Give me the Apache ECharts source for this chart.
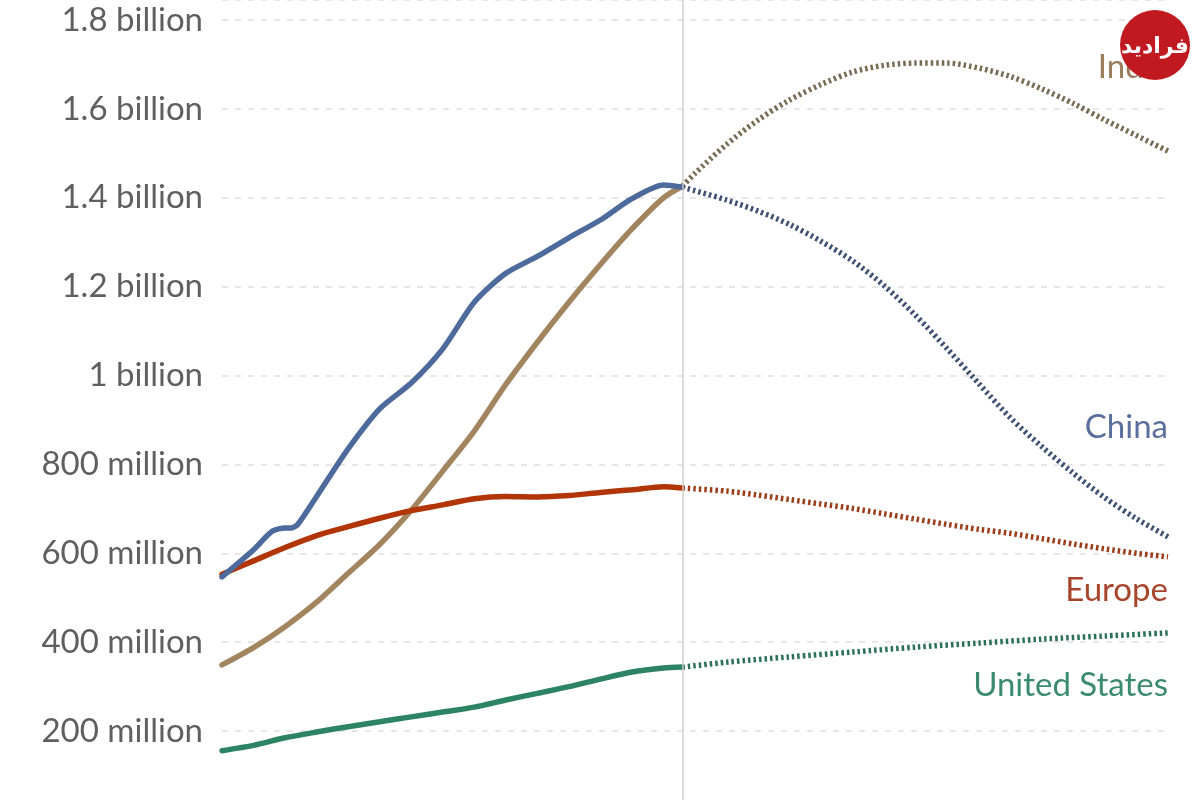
<!DOCTYPE html>
<html>
<head>
<meta charset="utf-8">
<title>Population projections</title>
<script src="https://cdn.jsdelivr.net/npm/echarts@6/dist/echarts.min.js"></script>
<style>
  html, body { margin: 0; padding: 0; background: #fff; }
  #echart { width: 1200px; height: 800px; }
</style>
</head>
<body>
<div id="echart"></div>
<script>
// values in millions of people
var chinaHistYears = [1950, 1955, 1958, 1960, 1961, 1962, 1965, 1970, 1975, 1980, 1985, 1990, 1995, 2000, 2005, 2010, 2015, 2020, 2023];
var chinaHist = [547, 608, 650, 657, 657, 665, 728, 835, 925, 983, 1060, 1165, 1230, 1268, 1310, 1350, 1398, 1429, 1424];
var chinaProjYears = [2023, 2030, 2035, 2040, 2045, 2050, 2055, 2060, 2065, 2070, 2075, 2080, 2085, 2090, 2095, 2100];
var chinaProj = [1424, 1395, 1370, 1340, 1302, 1258, 1202, 1135, 1060, 982, 905, 840, 780, 725, 678, 637];

var indiaHistYears = [1950, 1955, 1960, 1965, 1970, 1975, 1980, 1985, 1990, 1995, 2000, 2005, 2010, 2015, 2020, 2023];
var indiaHist = [349, 388, 435, 490, 555, 620, 697, 785, 875, 980, 1075, 1165, 1250, 1330, 1400, 1426];
var indiaProjYears = [2023, 2025, 2030, 2035, 2040, 2045, 2050, 2055, 2060, 2065, 2070, 2075, 2080, 2085, 2090, 2095, 2100];
var indiaProj = [1426, 1455, 1520, 1575, 1620, 1655, 1683, 1698, 1703, 1703, 1692, 1673, 1645, 1612, 1575, 1540, 1505];

var europeHistYears = [1950, 1955, 1960, 1965, 1970, 1975, 1980, 1985, 1990, 1995, 2000, 2005, 2010, 2015, 2020, 2023];
var europeHist = [553, 583, 613, 640, 660, 679, 696, 709, 723, 728, 727, 730, 737, 743, 750, 747];
var europeProjYears = [2023, 2030, 2035, 2040, 2045, 2050, 2055, 2060, 2065, 2070, 2075, 2080, 2085, 2090, 2095, 2100];
var europeProj = [747, 740, 731, 721, 711, 701, 689, 677, 665, 654, 645, 633, 621, 610, 600, 592];

var usHistYears = [1950, 1955, 1960, 1965, 1970, 1975, 1980, 1985, 1990, 1995, 2000, 2005, 2010, 2015, 2020, 2023];
var usHist = [156, 168, 185, 198, 210, 221, 232, 243, 254, 270, 285, 300, 317, 333, 342, 344];
var usProjYears = [2023, 2030, 2040, 2050, 2060, 2070, 2080, 2090, 2100];
var usProj = [344, 355, 367, 378, 389, 398, 407, 414, 421];

var yTicks = [200, 400, 600, 800, 1000, 1200, 1400, 1600, 1800];
var labelNames = ['India', 'China', 'Europe', 'United States'];

var myChart = echarts.init(document.getElementById('echart'));

function pairs(xs, ys) {
    var out = [];
    for (var i = 0; i < xs.length; i++) {
        out.push([xs[i], ys[i]]);
    }
    return out;
}

var colors = {
    China: '#4C6A9C',
    India: '#A2845E',
    Europe: '#B13507',
    'United States': '#2C8465'
};
// the dotted projections read a bit darker than the solid lines
var dotColors = {
    China: '#3f5075',
    India: '#776a52',
    Europe: '#9c3c18',
    'United States': '#2a7058'
};

function histSeries(name, xs, ys, z) {
    return {
        name: name,
        type: 'line',
        data: pairs(xs, ys),
        smooth: 0.25,
        showSymbol: false,
        z: z,
        lineStyle: { color: colors[name], width: 5.5, cap: 'round' }
    };
}

function projSeries(name, xs, ys, z) {
    return {
        name: name + ' (projection)',
        type: 'line',
        data: pairs(xs, ys),
        smooth: 0.3,
        showSymbol: false,
        z: z,
        lineStyle: { color: dotColors[name], width: 5.5, type: [2.5, 3], cap: 'butt' }
    };
}

var series = [
    histSeries('India', indiaHistYears, indiaHist, 2),
    projSeries('India', indiaProjYears, indiaProj, 2),
    histSeries('Europe', europeHistYears, europeHist, 3),
    projSeries('Europe', europeProjYears, europeProj, 3),
    histSeries('China', chinaHistYears, chinaHist, 4),
    projSeries('China', chinaProjYears, chinaProj, 4),
    histSeries('United States', usHistYears, usHist, 3),
    projSeries('United States', usProjYears, usProj, 3)
];

// vertical divider between estimates and projections
series[0].markLine = {
    silent: true,
    symbol: 'none',
    label: { show: false },
    lineStyle: { color: '#cfcfcf', width: 1.5, type: 'solid' },
    data: [{ xAxis: 2023 }]
};

var labelY = { 'India': 67, 'China': 427, 'Europe': 590, 'United States': 685 };
var labelColor = { 'India': '#9a7d5b', 'China': '#5a6f9c', 'Europe': '#a8442a', 'United States': '#3a8a70' };

var graphics = labelNames.map(function (n) {
    return {
        type: 'text',
        x: 1168,
        y: labelY[n],
        z: 10,
        style: {
            text: n,
            fill: labelColor[n],
            font: '33px Lato',
            textAlign: 'right',
            textVerticalAlign: 'middle'
        }
    };
});

// watermark badge
graphics.push({
    type: 'circle',
    shape: { cx: 1155, cy: 45, r: 35 },
    style: { fill: '#c0191f' },
    z: 20
});
graphics.push({
    type: 'text',
    x: 1155,
    y: 47,
    z: 21,
    style: {
        text: 'فرادید',
        fill: '#fff',
        font: 'bold 22px "DejaVu Sans"',
        textAlign: 'center',
        textVerticalAlign: 'middle'
    }
});

var option = {
    backgroundColor: '#fff',
    animation: false,
    grid: {
        left: 222, right: 32, top: 0, bottom: -20,
        outerBoundsMode: 'none',
        containLabel: false
    },
    xAxis: {
        type: 'value',
        min: 1950,
        max: 2100,
        show: false
    },
    yAxis: {
        type: 'value',
        min: 0,
        max: 1845,
        interval: 200,
        axisLine: { show: false },
        axisTick: { show: false },
        axisLabel: {
            margin: 19,
            color: '#5f5f5f',
            fontSize: 33,
            fontFamily: 'Lato',
            showMaxLabel: false,
            formatter: function (v) {
                if (yTicks.indexOf(v) < 0) return '';
                return v >= 1000 ? (v / 1000) + ' billion' : v + ' million';
            }
        },
        splitLine: {
            lineStyle: { color: '#dedede', width: 1.5, type: [6, 7] }
        }
    },
    graphic: graphics,
    series: series
};

myChart.setOption(option);
</script>
</body>
</html>
